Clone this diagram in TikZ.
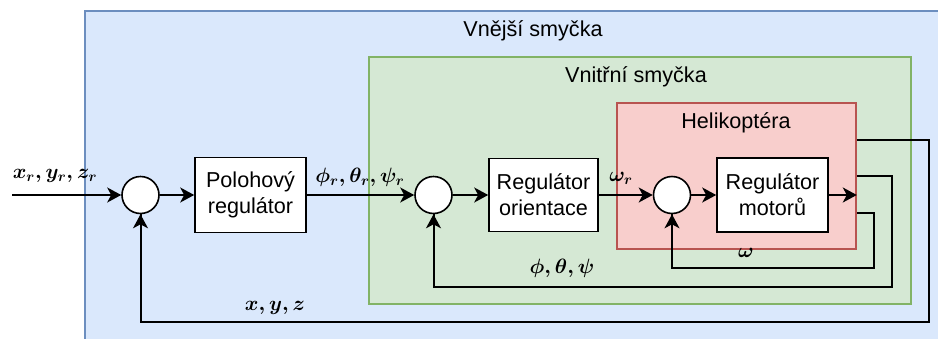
\documentclass[tikz,border=0pt]{standalone}
\usepackage{amsmath}
\usepackage{fontspec}
\setmainfont{Liberation Sans}
\usetikzlibrary{arrows.meta,calc}

\definecolor{outerfill}{HTML}{DAE8FC}
\definecolor{outerline}{HTML}{6C8EBF}
\definecolor{innerfill}{HTML}{D5E8D4}
\definecolor{innerline}{HTML}{82B366}
\definecolor{helifill}{HTML}{F8CECC}
\definecolor{heliline}{HTML}{B85450}

\tikzset{
  txt/.style={font=\fontsize{21.6}{25.8}\selectfont},
  blockbox/.style={draw, fill=white, line width=1.6pt, align=center, txt,
    inner sep=0pt},
  sumnode/.style={draw, fill=white, circle, line width=1.6pt,
    minimum size=37pt, inner sep=0pt},
  sig/.style={line width=2pt, -{Stealth[length=14pt,width=15pt,inset=4pt]}},
  fb/.style={line width=2pt},
  lbl/.style={txt, inner sep=0pt},
  mathlbl/.style={font=\fontsize{22.5}{26}\selectfont, inner sep=0pt},
}

\begin{document}
\begin{tikzpicture}[x=1pt,y=-1pt]
\useasboundingbox (0,0) rectangle (938,338);
\begin{scope}
  \clip (0,0) rectangle (938,338);
  % loop frames
  \draw[fill=outerfill, draw=outerline, line width=1.6pt]
    (85,11) rectangle (982,380);
  \draw[fill=innerfill, draw=innerline, line width=1.6pt]
    (369,57) rectangle (911,304);
\end{scope}
\node[lbl] (outertitle) at (533,31) {Vnější smyčka};
\node[lbl] (innertitle) at (636,77) {Vnitřní smyčka};

% helicopter frame
\node[draw=heliline, fill=helifill, line width=1.6pt, minimum width=239pt,
  minimum height=146pt, inner sep=0pt] (heli) at (736.5,176) {};
\node[lbl] (helititle) at (736,123) {Helikoptéra};

% blocks
\node[sumnode] (s1) at (140.5,195) {};
\node[blockbox, minimum width=111pt, minimum height=75pt] (pos) at (250.5,195)
  {Polohový\\regulátor};
\node[sumnode] (s2) at (433.5,195) {};
\node[blockbox, minimum width=109pt, minimum height=73pt] (att) at (543.5,195)
  {Regulátor\\orientace};
\node[sumnode] (s3) at (672,195) {};
\node[blockbox, minimum width=111pt, minimum height=74pt] (mot) at (772.5,195)
  {Regulátor\\motorů};

% forward path
\coordinate (in) at (12,195);
\draw[sig] (in) -- (s1);
\draw[sig] (s1) -- (pos);
\draw[sig] (pos) -- (s2);
\draw[sig] (s2) -- (att);
\draw[sig] (att) -- (s3);
\draw[sig] (s3) -- (mot);
\draw[sig] (mot.east) -- (mot.east -| heli.east);

% feedback loops
\coordinate (wout) at (heli.east |- 0,213);
\coordinate (aout) at (heli.east |- 0,176);
\coordinate (pout) at (heli.east |- 0,140);
\draw[fb] (wout) -- (874,213) -- (874,268) -| (s3.south);
\draw[sig] (s3.south |- 0,230) -- (s3.south);
\draw[fb] (aout) -- (892,176) -- (892,287) -| (s2.south);
\draw[sig] (s2.south |- 0,230) -- (s2.south);
\draw[fb] (pout) -- (929,140) -- (929,322) -| (s1.south);
\draw[sig] (s1.south |- 0,230) -- (s1.south);

% signal labels
\node[mathlbl] (lin) at (55,176) {$\boldsymbol{x_r, y_r, z_r}$};
\node[mathlbl] (lref) at (360,177) {$\boldsymbol{\phi_r, \theta_r, \psi_r}$};
\node[mathlbl] (lwr) at (621,178) {$\boldsymbol{\omega_r}$};
\node[mathlbl] (lw) at (746,253) {$\boldsymbol{\omega}$};
\node[mathlbl] (latt) at (562,268) {$\boldsymbol{\phi, \theta, \psi}$};
\node[mathlbl] (lpos) at (275,308) {$\boldsymbol{x, y, z}$};
\end{tikzpicture}
\end{document}
